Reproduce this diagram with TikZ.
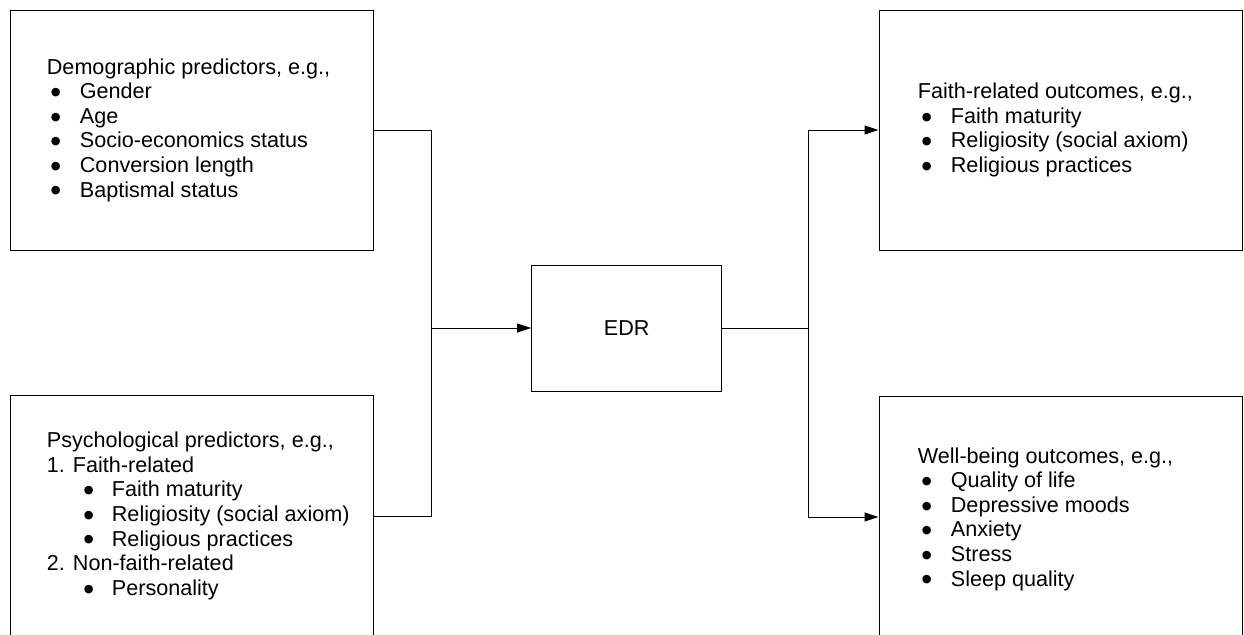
\documentclass[tikz,border=0pt]{standalone}
\usepackage{fontspec}
\setmainfont{Liberation Sans}
\newfontfamily\dotfont{DejaVu Sans}
\usetikzlibrary{
  positioning,
  arrows.meta} % for the filled tips
\tikzstyle{group} = [draw, line width=0.5pt, minimum width=181.5pt, minimum height=120pt]
\tikzstyle{tall} = [minimum height=121pt]
\tikzstyle{list} = [inner sep=0pt, align=left, anchor=west, font=\fontsize{10.8}{12.3}\selectfont]
\tikzstyle{core} = [draw, line width=0.5pt, minimum width=95pt, minimum height=63pt, font=\fontsize{10.8}{12.3}\selectfont]
\tikzstyle{link} = [line width=0.5pt]
\newcommand{\bigdot}{\raisebox{1.6pt}{\dotfont\fontsize{5.6}{5.6}\selectfont ●}}
\newcommand{\itm}[1]{\makebox[16.5pt][l]{\hspace{2pt}\bigdot}#1}
\newcommand{\subitm}[1]{\hspace{16.5pt}\makebox[16pt][l]{\hspace{2pt}\bigdot}#1}

\begin{document}
\begin{tikzpicture}[x=0.5pt, y=-0.5pt, >={Triangle[length=7pt,width=4.5pt]}]
\clip (0,0) rectangle (1244,634);

% predictors
\node[group] (tl) at (191.5,130) {};
\node[list, right=18.5pt of tl.west] (tltext) {Demographic predictors, e.g.,\\
  \itm{Gender}\\ \itm{Age}\\ \itm{Socio-economics status}\\
  \itm{Conversion length}\\ \itm{Baptismal status}};
\node[group, tall, below=72pt of tl] (bl) {};
\node[list, right=18.5pt of bl.west] (bltext) {Psychological predictors, e.g.,\\
  1. Faith-related\\ \subitm{Faith maturity}\\ \subitm{Religiosity (social axiom)}\\
  \subitm{Religious practices}\\ 2. Non-faith-related\\ \subitm{Personality}};

% mediator
\node[core] (edr) at (626.7,328) {EDR};

% outcomes
\node[group] (tr) at (1060.5,130) {};
\node[list, right=19.5pt of tr.west] (trtext) {Faith-related outcomes, e.g.,\\
  \itm{Faith maturity}\\ \itm{Religiosity (social axiom)}\\ \itm{Religious practices}};
\node[group, tall, below=72.5pt of tr] (br) {};
\node[list, right=19.5pt of br.west, yshift=-1pt] (brtext) {Well-being outcomes, e.g.,\\
  \itm{Quality of life}\\ \itm{Depressive moods}\\ \itm{Anxiety}\\
  \itm{Stress}\\ \itm{Sleep quality}};

\coordinate (jl) at (431,328);
\coordinate (jr) at (808,328);
\draw[link] (tl.east) -| (jl);
\draw[link] (bl.east) -| (jl);
\draw[link,->] (jl) -- (edr.west);
\draw[link] (edr.east) -- (jr);
\draw[link,->] (jr) |- (tr.west);
\draw[link,->] (jr) |- (br.west);

\end{tikzpicture}
\end{document}
